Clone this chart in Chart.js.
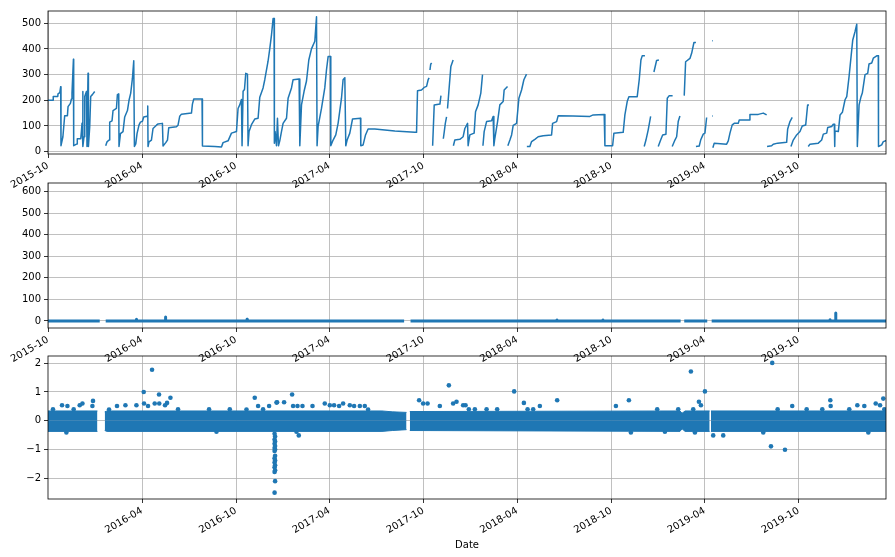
<!DOCTYPE html>
<html>
<head>
<meta charset="utf-8">
<script src="https://cdn.jsdelivr.net/npm/chart.js@4.4.0/dist/chart.umd.min.js"></script>
<style>
  body { margin: 0; background: #fff; }
  #wrap { position: relative; width: 895px; height: 557px; }
  canvas { position: absolute; left: 0; }
</style>
</head>
<body>
<div id="wrap">
  <canvas id="levelChart" width="895" height="200" style="top:0"></canvas>
  <canvas id="changeChart" width="895" height="200" style="top:170px"></canvas>
  <canvas id="diffChart" width="895" height="212" style="top:345px"></canvas>
</div>
<script>
// x values are days since the first date of the series
const startDate = Date.UTC(2015, 9, 1);
const lastDay = 1631;
const dateTicks = ['2015-10', '2016-04', '2016-10', '2017-04', '2017-10', '2018-04', '2018-10', '2019-04', '2019-10'];

const levelTicks = [0, 100, 200, 300, 400, 500];
const changeTicks = [0, 100, 200, 300, 400, 500, 600];
const diffTicks = [-2, -1, 0, 1, 2];

// top panel: level, one sub-array per unbroken run of [day, value]
const levelSegments = [
  [[0,200],[10,200],[10.2,215],[19,215],[19.5,225],[23,230],[24.7,253],[25.3,23],[29,58],[32.5,140],[37.8,140],[39,175],[43.6,188],[45.6,205],[46.7,228],[49.5,360],[50,23],[56.5,30],[57,50],[63.7,50],[65,78],[66.2,110],[67.6,234],[68.1,20],[70.1,58],[71.5,215],[74.8,234],[75.9,20],[77.9,305],[78.7,20],[81.2,97],[83.1,215],[86.4,222],[90.9,234]],
  [[112.3,23],[114.9,38],[118.8,45],[120.1,115],[124.6,120],[126.6,160],[133.2,168],[135.1,222],[137.7,225],[138.2,20],[141,70],[146,78],[149.3,135],[154.6,160],[157.7,200],[161,228],[164.3,285],[166.9,354],[168.2,20],[170.8,30],[173.3,70],[177.2,104],[179.9,115],[183.8,118],[186.3,135],[192.8,138],[194.1,178],[194.7,20],[196.6,38],[201.3,45],[204.4,90],[211.1,103],[214.2,108],[222.7,110],[223.9,22],[229.2,35],[232.5,45],[235,93],[250,97],[253.1,103],[256.4,138],[259.7,146],[279.2,150],[281.1,185],[283.7,205],[299.8,205],[300.6,22],[324.6,20],[337.6,18],[340.7,35],[350.5,42],[357.1,72],[366.8,78],[369.9,168],[373.2,182],[376.5,203],[377.7,23],[379.7,235],[382.4,242],[384.9,305],[388.2,302],[389.4,23],[391.3,78],[396,105],[402.4,127],[408.9,130],[412.2,212],[418.6,248],[421.9,280],[428.3,352],[431.6,400],[435,455],[438.1,518],[440,518],[440.6,33],[442,78],[444.7,23],[446.6,130],[448.6,23],[451.1,42],[454.4,78],[457.5,110],[464.2,130],[467.3,208],[473.9,248],[477,280],[488.7,283],[490.1,23],[493.4,182],[498.4,235],[503.1,275],[507.6,357],[512.8,400],[519.3,430],[522.6,525],[523.7,23],[525.7,98],[532.3,168],[538.7,248],[542,318],[545.2,370],[549.8,370],[550.4,23],[554.9,45],[560.1,65],[564.6,110],[571.2,208],[574.3,280],[577.7,288],[579.6,23],[582.2,45],[587.4,72],[592.7,127],[608.2,130],[608.8,23],[613.3,26],[618,65],[623,88],[636.1,88],[675,80],[714,75],[717.3,75],[719.2,237],[727,240],[732.1,250],[736.8,254],[739.9,280],[741.8,287]],
  [[743.4,318],[744.8,340],[746.7,345]],
  [[748.6,23],[751.7,182],[762.8,185],[764.8,218]],
  [[769.4,50],[771.4,80],[773.3,110],[775.7,135]],
  [[777.6,168],[780.2,234],[784.1,332],[788.5,357]],
  [[789,23],[791.8,45],[801.5,48],[808,58],[811.3,90],[816.6,110],[817.7,23],[821,65],[829.4,72],[832.1,155],[837.2,182],[842.4,228],[845.7,300]],
  [[846.5,23],[848.9,78],[853.6,117],[863.3,120],[866.4,137],[867.8,23],[869.7,52],[875,117],[879.4,182],[885.9,195],[887.8,240],[894.4,254]],
  [[895,23],[899,45],[902.3,65],[905.4,102],[912,110],[916.5,208],[921.7,240],[926.2,280],[931.4,302]],
  [[932,20],[937.9,20],[941.2,39],[947.6,48],[954,58],[963.8,62],[980.1,65],[982.1,110],[989.9,117],[993,140],[1021.6,139],[1054.7,137],[1061.1,143],[1082.5,145],[1083.9,23],[1098.9,23],[1101.4,72],[1119.5,75],[1122.8,143],[1127.3,195],[1130.6,214],[1146.8,214],[1150.7,280],[1154,357],[1156.5,373],[1161.8,373]],
  [[1160.4,20],[1163.8,45],[1168.2,85],[1172.9,137]],
  [[1179.3,310],[1184.5,355],[1189,357]],
  [[1187.7,20],[1192.4,45],[1196.3,65],[1202.7,68],[1205.3,208],[1209.1,218],[1215.7,218]],
  [[1214.9,20],[1220.2,45],[1223.5,58],[1226.6,117],[1229.9,139]],
  [[1238.3,218],[1241,350],[1249.4,363],[1252.7,383],[1257.2,425],[1261.1,425]],
  [[1261.1,20],[1267.5,22],[1270.3,45],[1275.3,68],[1278.6,72],[1281.9,133]],
  [[1292.3,432],[1293.6,432]],
  [[1292.3,139],[1293.6,139]],
  [[1294,15],[1296.7,33],[1320.8,29],[1324,42],[1327.3,72],[1331.7,104],[1335.6,110],[1343.4,110],[1345.4,123],[1364.8,123],[1366.2,145],[1382.4,145],[1392.1,150],[1398.7,143]],
  [[1399.5,20],[1408.4,23],[1411.5,29],[1420.1,33],[1437.6,36],[1439.6,88],[1444.1,117],[1448.5,133]],
  [[1446,20],[1450.5,45],[1457.1,65],[1463.6,78],[1468,100],[1474.7,104],[1478.5,182],[1481.1,182]],
  [[1479.7,20],[1483,29],[1499.2,33],[1505.8,45],[1509,68],[1515.6,72],[1517.6,94],[1525.3,98],[1528.4,107],[1530.4,107],[1531.2,20],[1531.8,80],[1538.2,78],[1541.6,143],[1546.1,153],[1551.3,202],[1554.6,214],[1559.1,292],[1563,370],[1566.3,435],[1570.8,468],[1574.1,496],[1575.2,20],[1578.6,182],[1582.4,214],[1584.9,228],[1590.2,300],[1595.4,305],[1597.9,341],[1603.2,345],[1606.3,364],[1612.9,373],[1616,373],[1616.4,20],[1622.6,26],[1625.7,39],[1630.4,42],[1631,42]]
];

// middle panel: change, nearly flat at zero with a few small spikes
const changeSegments = [
  [[0,0],[100.7,0]],
  [[112.3,0],[171.5,0],[172,8],[172.5,0],[228,0],[228.6,18],[229.2,0],[387,0],[387.5,8],[388,0],[693.1,0]],
  [[705.6,0],[990,0],[990.5,5],[991,0],[1079.5,0],[1080,5],[1080.5,0],[1231.3,0]],
  [[1238.3,0],[1283.1,0]],
  [[1291.7,0],[1521.5,0],[1522,6],[1522.5,0],[1532.5,0],[1533,37],[1533.5,0],[1631,0]]
];

// bottom panel: outer edges of the dense cloud of points, per unbroken run
const diffBandTop = [
  [[0,0.34],[96.2,0.34]],
  [[110.4,0.31],[115,0.34],[650,0.34],[670,0.31],[697.8,0.29]],
  [[704.2,0.32],[1230,0.34],[1234,0.26],[1240,0.34],[1287.8,0.34]],
  [[1290.3,0.34],[1631,0.34]]
];
const diffBandBottom = [
  [[0,-0.37],[96.2,-0.37]],
  [[110.4,-0.34],[115,-0.37],[650,-0.37],[670,-0.34],[697.8,-0.31]],
  [[704.2,-0.34],[1230,-0.37],[1234,-0.28],[1240,-0.37],[1287.8,-0.37]],
  [[1290.3,-0.37],[1631,-0.37]]
];

// bottom panel: points that stand out of the cloud
const diffOutliers = [
  [9.7,0.40],[27.3,0.54],[35.8,-0.41],[37.8,0.51],[50,0.40],[61.7,0.54],[67,0.60],[86.4,0.51],[87.6,0.69],
  [118.8,0.39],[134.3,0.51],[150.7,0.54],[172.1,0.54],[186.3,1.0],[186.9,0.6],[194.7,0.51],[202.5,1.77],
  [207.7,0.6],[216.1,0.91],[216.5,0.6],[227.8,0.54],[231.7,0.62],[238.3,0.80],[253.1,0.40],[313.5,0.40],
  [327.9,-0.38],[353.8,0.40],[386.3,0.39],[402.4,0.80],[408.9,0.51],[418.6,0.40],[430.3,0.51],[444.7,0.63],
  [445.9,0.64],[459.5,0.64],[475.1,0.91],[477,0.51],[483.6,-0.38],[485.6,0.51],[488.1,-0.51],[495.3,0.51],
  [514.8,0.51],[538.7,0.6],[548.5,0.54],[556.8,0.54],[566.6,0.51],[574.4,0.6],[587.4,0.54],[595.8,0.51],
  [606.9,0.51],[616.6,0.51],[623,0.39],
  [441,-0.45],[442,-0.55],[441,-0.65],[442,-0.72],[441,-0.8],[442,-0.88],[441,-0.95],[442,-1.0],[441,-1.05],
  [442,-1.22],[441,-1.3],[442,-1.38],[441,-1.45],[442,-1.55],[441,-1.62],[442,-1.72],[441,-1.78],[442,-2.1],[441,-2.5],
  [722.3,0.71],[730.1,0.6],[738.7,0.6],[762.6,0.51],[780.2,1.23],[788.5,0.6],[795.1,0.66],[808,0.54],
  [812.7,0.54],[819.1,0.4],[830.8,0.4],[853.6,0.4],[874.2,0.4],[907.3,1.02],[926.2,0.62],[933.4,0.4],
  [944.3,0.4],[957.3,0.51],[991,0.71],[1105.3,0.51],[1130.6,0.71],[1134.5,-0.41],[1185.7,0.4],[1200.7,-0.38],
  [1226.6,0.4],[1251.3,1.71],[1255.8,0.4],[1259.1,-0.41],[1266.9,0.66],[1270.8,0.54],[1278.6,1.02],
  [1294.7,-0.51],[1314.2,-0.51],[1392.1,-0.41],[1407.1,-0.89],[1409.6,2.01],[1420.1,0.4],[1434.4,-1.01],
  [1448.5,0.51],[1476.6,0.4],[1507,0.4],[1522.6,0.71],[1523.3,0.51],[1559.5,0.4],[1575.2,0.54],[1588.8,0.51],
  [1596.6,-0.41],[1611,0.6],[1619.4,0.54],[1625.7,0.77],[1627.7,0.4]
];

const BLUE = '#1f77b4';
Chart.defaults.font.family = '"DejaVu Sans", sans-serif';
Chart.defaults.font.size = 10;
Chart.defaults.color = '#000';

const frame = {
  id: 'frame',
  afterDatasetsDraw(chart) {
    const {ctx, chartArea: a} = chart;
    ctx.save();
    ctx.strokeStyle = '#000';
    ctx.lineWidth = 0.8;
    ctx.strokeRect(a.left, a.top, a.right - a.left, a.bottom - a.top);
    ctx.restore();
  }
};

function monthDay(label) {
  const [y, m] = label.split('-').map(Number);
  return (Date.UTC(y, m - 1, 1) - startDate) / 86400000;
}

function toPoints(segments) {
  const pts = [];
  segments.forEach((seg, i) => {
    if (i > 0) pts.push({x: seg[0][0], y: null});
    seg.forEach(([x, y]) => pts.push({x, y}));
  });
  return pts;
}

function lineSet(segments, width) {
  return {
    type: 'line',
    data: toPoints(segments),
    borderColor: BLUE,
    borderWidth: width,
    borderJoinStyle: 'round',
    pointRadius: 0,
    tension: 0,
    spanGaps: false,
    fill: false
  };
}

function minus(v) {
  return v < 0 ? '\u2212' + Math.abs(v) : String(v);
}

function drawPanel(id, cfg) {
  const xTicks = cfg.xLabels.map(l => ({value: monthDay(l), label: l}));
  return new Chart(document.getElementById(id), {
    type: 'scatter',
    data: {datasets: cfg.datasets},
    options: {
      responsive: false,
      animation: false,
      devicePixelRatio: 1,
      layout: {padding: {top: cfg.padTop, right: 9, left: 0, bottom: 0}},
      plugins: {legend: {display: false}, tooltip: {enabled: false}},
      scales: {
        x: {
          type: 'linear',
          min: 0,
          max: lastDay,
          border: {display: false},
          grid: {color: '#b0b0b0', lineWidth: 0.8, tickColor: '#000', tickLength: 4},
          ticks: {
            autoSkip: false, minRotation: 30, maxRotation: 30, padding: 2,
            callback: v => {
              const t = xTicks.find(t => t.value === v);
              return t ? t.label : '';
            }
          },
          afterBuildTicks: s => { s.ticks = xTicks.map(t => ({value: t.value})); },
          afterFit: s => { s.height = cfg.xHeight; },
          title: {display: !!cfg.xTitle, text: cfg.xTitle || '', padding: {top: 0, bottom: 6}}
        },
        y: {
          min: cfg.yMin,
          max: cfg.yMax,
          border: {display: false},
          grid: {color: '#b0b0b0', lineWidth: 0.8, tickColor: '#000', tickLength: 4},
          ticks: {padding: 3, callback: v => minus(v)},
          afterBuildTicks: s => { s.ticks = cfg.yTicks.map(v => ({value: v})); },
          afterFit: s => { s.width = 48; }
        }
      }
    },
    plugins: [frame]
  });
}

drawPanel('levelChart', {
  datasets: [lineSet(levelSegments, 1.5)],
  xLabels: dateTicks,
  yTicks: levelTicks,
  yMin: -9.3, yMax: 547.7,
  padTop: 11, xHeight: 46
});

drawPanel('changeChart', {
  datasets: [lineSet(changeSegments, 3)],
  xLabels: dateTicks,
  yTicks: changeTicks,
  yMin: -32.6, yMax: 639,
  padTop: 13, xHeight: 42
});

// each edge of the cloud is filled towards zero, so the two halves make the band
const bandSets = [];
diffBandTop.concat(diffBandBottom).forEach(edge => {
  bandSets.push(Object.assign(lineSet([edge], 1), {fill: 'origin', backgroundColor: BLUE}));
});

drawPanel('diffChart', {
  datasets: bandSets.concat([{
    type: 'scatter',
    data: diffOutliers.map(([x, y]) => ({x, y})),
    backgroundColor: BLUE,
    borderWidth: 0,
    pointRadius: 2.3
  }]),
  xLabels: dateTicks.slice(1),
  yTicks: diffTicks,
  yMin: -2.72, yMax: 2.25,
  padTop: 11, xHeight: 58,
  xTitle: 'Date'
});
</script>
</body>
</html>
